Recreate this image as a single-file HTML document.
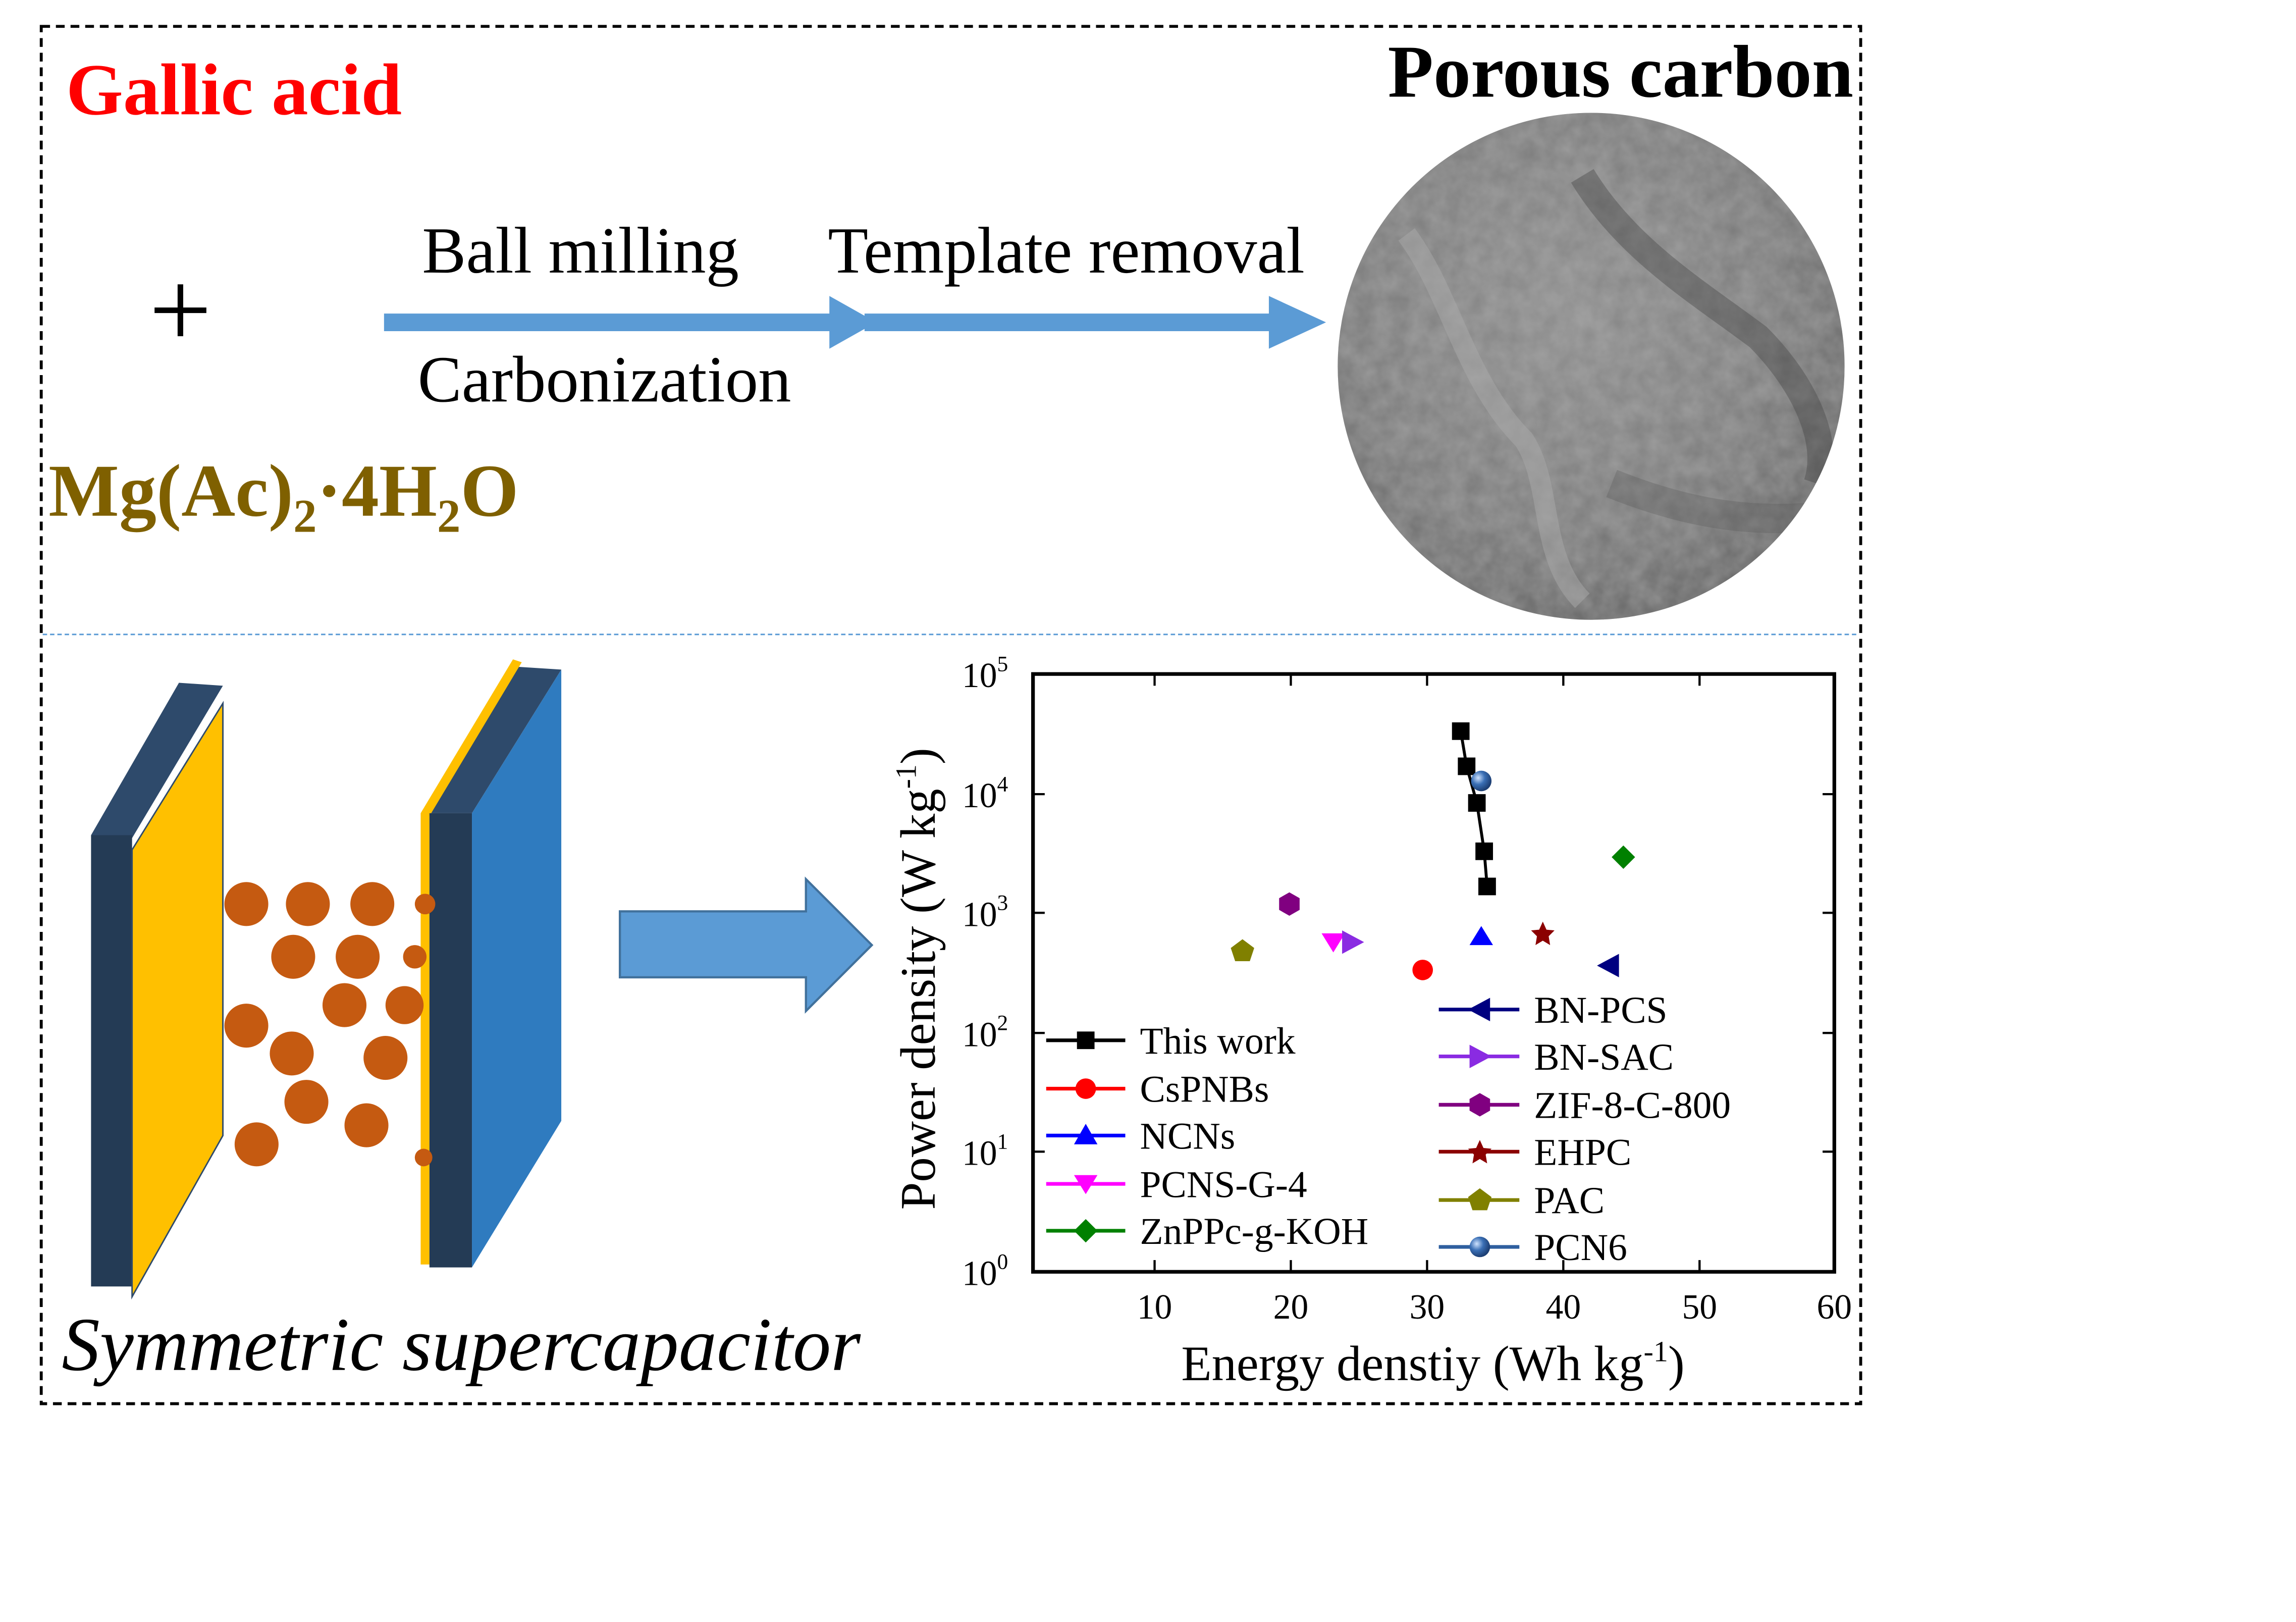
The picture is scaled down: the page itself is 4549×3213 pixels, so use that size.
<!DOCTYPE html>
<html><head><meta charset="utf-8"><style>html,body{margin:0;padding:0;background:#fff}svg{display:block}</style></head>
<body>
<svg width="4549" height="3213" viewBox="0 0 1567 1107" xmlns="http://www.w3.org/2000/svg" font-family="'Liberation Serif',serif">
<defs>
<radialGradient id="sem" cx="45%" cy="40%" r="60%"><stop offset="0" stop-color="#8c8c8c"/><stop offset="0.7" stop-color="#7a7a7a"/><stop offset="1" stop-color="#666"/></radialGradient>
<radialGradient id="ball" cx="35%" cy="35%" r="65%"><stop offset="0" stop-color="#cfe3ff"/><stop offset="0.5" stop-color="#3a6fb5"/><stop offset="1" stop-color="#1d3f74"/></radialGradient>
<filter id="tex" x="0" y="0" width="100%" height="100%"><feTurbulence type="fractalNoise" baseFrequency="0.08" numOctaves="3" seed="3"/><feColorMatrix type="matrix" values="0 0 0 0 0.5 0 0 0 0 0.5 0 0 0 0 0.5 0 0 0 0.5 0"/><feComposite in2="SourceGraphic" operator="in"/></filter>
<clipPath id="cc"><circle cx="1086" cy="250" r="173"/></clipPath>
</defs>
<rect x="28" y="18" width="1242" height="940" fill="none" stroke="#000" stroke-width="2" stroke-dasharray="6,4"/>
<line x1="29" y1="433" x2="1269" y2="433" stroke="#5b9bd5" stroke-width="1" stroke-dasharray="3,2"/>
<text x="45" y="78" font-size="50" font-weight="bold" fill="#ff0000">Gallic acid</text>
<text x="1265" y="66" font-size="51" font-weight="bold" text-anchor="end">Porous carbon</text>
<text x="123" y="237" font-size="76" text-anchor="middle">+</text>
<text x="33" y="352" font-size="51" font-weight="bold" fill="#7f6000">Mg(Ac)<tspan font-size="32" dy="11">2</tspan><tspan dy="-11">·4H</tspan><tspan font-size="32" dy="11">2</tspan><tspan dy="-11">O</tspan></text>
<polygon points="262,214 566,214 566,202 598,220 566,238 566,226 262,226" fill="#5b9bd5"/>
<polygon points="590,214 866,214 866,202 905,220 866,238 866,226 590,226" fill="#5b9bd5"/>
<text x="288" y="186" font-size="45">Ball milling</text>
<text x="565" y="186" font-size="45">Template removal</text>
<text x="285" y="274" font-size="45">Carbonization</text>
<circle cx="1086" cy="250" r="173" fill="url(#sem)"/>
<g clip-path="url(#cc)">
<rect x="913" y="77" width="346" height="346" fill="#777" filter="url(#tex)"/>
<path d="M960,160 C990,200 1000,260 1040,300 C1060,330 1050,380 1080,410" stroke="#aaa" stroke-width="14" fill="none" opacity="0.5"/>
<path d="M1080,120 C1110,170 1160,200 1200,230 C1230,260 1250,300 1240,330" stroke="#444" stroke-width="18" fill="none" opacity="0.4"/>
<path d="M1100,330 C1150,350 1200,360 1260,350" stroke="#555" stroke-width="20" fill="none" opacity="0.3"/>
</g>
<!-- plates -->
<polygon points="62,570 122,466 152,468 90,572" fill="#2e4a6b"/>
<rect x="62" y="570" width="28" height="308" fill="#243b55"/>
<polygon points="90,580 152,480 152,775 90,885" fill="#ffc000" stroke="#2e4a6b"/>
<polygon points="292,555 352,455 383,457 322,555" fill="#2e4a6b"/>
<polygon points="287,555 350,450 356,452 293,557" fill="#ffc000"/>
<rect x="287" y="555" width="6" height="308" fill="#ffc000"/>
<rect x="293" y="555" width="29" height="310" fill="#243b55"/>
<polygon points="322,555 383,457 383,765 322,865" fill="#2f7bbf"/>
<g fill="#c55a11">
<circle cx="168" cy="617" r="15"/><circle cx="210" cy="617" r="15"/><circle cx="254" cy="617" r="15"/><circle cx="290" cy="617" r="7"/>
<circle cx="200" cy="653" r="15"/><circle cx="244" cy="653" r="15"/><circle cx="283" cy="653" r="8"/>
<circle cx="168" cy="700" r="15"/><circle cx="235" cy="686" r="15"/><circle cx="276" cy="686" r="13"/>
<circle cx="199" cy="719" r="15"/><circle cx="263" cy="722" r="15"/><circle cx="209" cy="752" r="15"/>
<circle cx="250" cy="768" r="15"/><circle cx="175" cy="781" r="15"/><circle cx="289" cy="790" r="6"/>
</g>
<text x="42" y="935" font-size="52" font-style="italic">Symmetric supercapacitor</text>
<polygon points="423,622 550,622 550,600 595,645 550,690 550,667 423,667" fill="#5b9bd5" stroke="#41719c" stroke-width="1.5"/>
<!-- chart -->
<rect x="705" y="460" width="547" height="408" fill="none" stroke="#000" stroke-width="2.5"/>
<g stroke="#000" stroke-width="1.5">
<line x1="788" y1="868" x2="788" y2="860"/><line x1="881" y1="868" x2="881" y2="860"/><line x1="974" y1="868" x2="974" y2="860"/><line x1="1067" y1="868" x2="1067" y2="860"/><line x1="1160" y1="868" x2="1160" y2="860"/>
<line x1="788" y1="460" x2="788" y2="468"/><line x1="881" y1="460" x2="881" y2="468"/><line x1="974" y1="460" x2="974" y2="468"/><line x1="1067" y1="460" x2="1067" y2="468"/><line x1="1160" y1="460" x2="1160" y2="468"/>
<line x1="705" y1="786" x2="713" y2="786"/><line x1="705" y1="705" x2="713" y2="705"/><line x1="705" y1="623" x2="713" y2="623"/><line x1="705" y1="542" x2="713" y2="542"/>
<line x1="1252" y1="786" x2="1244" y2="786"/><line x1="1252" y1="705" x2="1244" y2="705"/><line x1="1252" y1="623" x2="1244" y2="623"/><line x1="1252" y1="542" x2="1244" y2="542"/>
</g>
<g font-size="24" text-anchor="middle">
<text x="788" y="900">10</text><text x="881" y="900">20</text><text x="974" y="900">30</text><text x="1067" y="900">40</text><text x="1160" y="900">50</text><text x="1252" y="900">60</text>
</g>
<g font-size="24" text-anchor="end">
<text x="688" y="877">10<tspan font-size="15" dy="-11">0</tspan></text>
<text x="688" y="795">10<tspan font-size="15" dy="-11">1</tspan></text>
<text x="688" y="714">10<tspan font-size="15" dy="-11">2</tspan></text>
<text x="688" y="632">10<tspan font-size="15" dy="-11">3</tspan></text>
<text x="688" y="551">10<tspan font-size="15" dy="-11">4</tspan></text>
<text x="688" y="469">10<tspan font-size="15" dy="-11">5</tspan></text>
</g>
<text transform="translate(638,668) rotate(-90)" font-size="34" text-anchor="middle">Power density (W kg<tspan font-size="20" dy="-13">-1</tspan><tspan dy="13">)</tspan></text>
<text x="978" y="942" font-size="34" text-anchor="middle">Energy denstiy (Wh kg<tspan font-size="20" dy="-13">-1</tspan><tspan dy="13">)</tspan></text>
<polyline points="997,499 1001,523 1008,548 1013,581 1015,605" fill="none" stroke="#000" stroke-width="2"/>
<g fill="#000"><rect x="991" y="493" width="12" height="12"/><rect x="995" y="517" width="12" height="12"/><rect x="1002" y="542" width="12" height="12"/><rect x="1007" y="575" width="12" height="12"/><rect x="1009" y="599" width="12" height="12"/></g>
<circle cx="1011" cy="533" r="7" fill="url(#ball)"/>
<circle cx="971" cy="662" r="7" fill="#ff0000"/>
<polygon points="1011,632 1019,645 1003,645" fill="#0000ff"/>
<polygon points="902,637 918,637 910,650" fill="#ff00ff"/>
<polygon points="916,635 931,643 916,651" fill="#8a2be2"/>
<polygon points="880,609 887,613 887,621 880,625 873,621 873,613" fill="#800080"/>
<polygon points="1053,629 1055.5,634.5 1061,635 1057,639 1058,645 1053,642 1048,645 1049,639 1045,635 1050.5,634.5" fill="#8b0000"/>
<polygon points="848,641 856,647 853,656 843,656 840,647" fill="#808000"/>
<polygon points="1105,651 1105,667 1090,659" fill="#000080"/>
<polygon points="1108,577 1116,585 1108,593 1100,585" fill="#008000"/>
<!-- legend -->
<g stroke-width="2.5" font-size="26">
<line x1="714" y1="710" x2="768" y2="710" stroke="#000"/><rect x="735" y="704" width="12" height="12"/><text x="778" y="719">This work</text>
<line x1="714" y1="743" x2="768" y2="743" stroke="#ff0000"/><circle cx="741" cy="743" r="7" fill="#ff0000"/><text x="778" y="752">CsPNBs</text>
<line x1="714" y1="775" x2="768" y2="775" stroke="#0000ff"/><polygon points="741,767 749,781 733,781" fill="#0000ff"/><text x="778" y="784">NCNs</text>
<line x1="714" y1="808" x2="768" y2="808" stroke="#ff00ff"/><polygon points="733,802 749,802 741,815" fill="#ff00ff"/><text x="778" y="817">PCNS-G-4</text>
<line x1="714" y1="840" x2="768" y2="840" stroke="#008000"/><polygon points="741,832 749,840 741,848 733,840" fill="#008000"/><text x="778" y="849">ZnPPc-g-KOH</text>
<line x1="982" y1="689" x2="1037" y2="689" stroke="#000080"/><polygon points="1017,681 1017,697 1002,689" fill="#000080"/><text x="1047" y="698">BN-PCS</text>
<line x1="982" y1="721" x2="1037" y2="721" stroke="#8a2be2"/><polygon points="1003,713 1018,721 1003,729" fill="#8a2be2"/><text x="1047" y="730">BN-SAC</text>
<line x1="982" y1="754" x2="1037" y2="754" stroke="#800080"/><polygon points="1010,746 1017,750 1017,758 1010,762 1003,758 1003,750" fill="#800080"/><text x="1047" y="763">ZIF-8-C-800</text>
<line x1="982" y1="786" x2="1037" y2="786" stroke="#8b0000"/><polygon points="1010,778 1012.5,783.5 1018,784 1014,788 1015,794 1010,791 1005,794 1006,788 1002,784 1007.5,783.5" fill="#8b0000"/><text x="1047" y="795">EHPC</text>
<line x1="982" y1="819" x2="1037" y2="819" stroke="#808000"/><polygon points="1010,811 1018,817 1015,826 1005,826 1002,817" fill="#808000"/><text x="1047" y="828">PAC</text>
<line x1="982" y1="851" x2="1037" y2="851" stroke="#2f5f9f"/><circle cx="1010" cy="851" r="7" fill="url(#ball)"/><text x="1047" y="860">PCN6</text>
</g>
</svg>
</body></html>
